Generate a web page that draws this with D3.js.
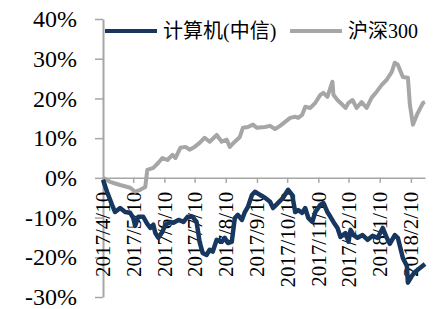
<!DOCTYPE html>
<html>
<head>
<meta charset="utf-8">
<script src="https://cdn.jsdelivr.net/npm/d3@7"></script>
<style>
  body { margin: 0; background: #fff; }
  text { font-family: "Liberation Serif", "Noto Sans CJK SC", serif; fill: #000; }
</style>
</head>
<body>
<div id="chart"></div>
<script>
// 沪深300
const hs300Dates = ["2017-04-10","2017-04-17","2017-04-27","2017-05-07","2017-05-12","2017-05-17","2017-05-22","2017-05-24","2017-05-30","2017-06-04","2017-06-08","2017-06-13","2017-06-18","2017-06-21","2017-06-26","2017-07-01","2017-07-05","2017-07-10","2017-07-15","2017-07-20","2017-07-25","2017-08-01","2017-08-06","2017-08-11","2017-08-14","2017-08-19","2017-08-24","2017-08-27","2017-09-01","2017-09-06","2017-09-10","2017-09-18","2017-09-23","2017-09-28","2017-10-03","2017-10-08","2017-10-13","2017-10-18","2017-10-21","2017-10-25","2017-10-28","2017-11-02","2017-11-07","2017-11-12","2017-11-15","2017-11-19","2017-11-22","2017-11-24","2017-11-25","2017-11-29","2017-12-04","2017-12-07","2017-12-10","2017-12-14","2017-12-18","2017-12-23","2017-12-28","2018-01-02","2018-01-07","2018-01-12","2018-01-17","2018-01-22","2018-01-25","2018-01-28","2018-02-02","2018-02-07","2018-02-09","2018-02-12","2018-02-16","2018-02-22","2018-02-24"];
const hs300Values = [0.0,-1.0,-1.8,-2.5,-3.5,-3.0,-2.3,2.0,2.5,3.8,5.0,4.5,5.8,5.0,7.6,7.8,7.1,7.8,8.8,10.1,9.1,10.8,9.1,9.6,7.8,9.1,10.3,12.6,12.8,13.4,12.6,12.8,13.1,12.3,13.1,14.1,15.1,15.4,15.1,15.9,17.9,17.6,18.9,20.9,21.4,20.4,22.7,24.2,20.9,19.6,18.4,17.6,18.9,19.6,17.6,19.1,17.6,20.2,21.7,23.4,24.7,26.7,29.0,28.5,25.4,25.2,18.4,13.4,15.9,18.9,19.1];

// 计算机(中信)
const computerDates = ["2017-04-10","2017-04-14","2017-04-19","2017-04-22","2017-04-27","2017-05-02","2017-05-07","2017-05-10","2017-05-12","2017-05-15","2017-05-20","2017-05-24","2017-05-27","2017-05-30","2017-06-01","2017-06-04","2017-06-08","2017-06-11","2017-06-16","2017-06-19","2017-06-24","2017-06-29","2017-07-03","2017-07-08","2017-07-12","2017-07-15","2017-07-18","2017-07-22","2017-07-25","2017-07-28","2017-08-01","2017-08-06","2017-08-09","2017-08-12","2017-08-16","2017-08-19","2017-08-22","2017-08-26","2017-08-29","2017-09-01","2017-09-05","2017-09-08","2017-09-13","2017-09-18","2017-09-23","2017-09-26","2017-10-01","2017-10-06","2017-10-11","2017-10-15","2017-10-18","2017-10-21","2017-10-25","2017-10-28","2017-10-31","2017-11-04","2017-11-07","2017-11-12","2017-11-15","2017-11-19","2017-11-22","2017-11-25","2017-11-29","2017-12-02","2017-12-07","2017-12-10","2017-12-12","2017-12-15","2017-12-19","2017-12-24","2017-12-29","2018-01-03","2018-01-08","2018-01-13","2018-01-17","2018-01-20","2018-01-25","2018-01-28","2018-02-02","2018-02-06","2018-02-07","2018-02-11","2018-02-14","2018-02-19","2018-02-24"];
const computerValues = [-0.5,-3.5,-6.8,-8.6,-7.6,-8.6,-8.8,-10.1,-12.1,-9.8,-9.8,-11.6,-12.6,-11.8,-13.9,-15.1,-13.6,-11.8,-11.1,-11.3,-10.6,-11.1,-9.8,-9.8,-11.1,-16.1,-18.9,-19.4,-18.1,-18.6,-15.6,-16.1,-15.1,-16.4,-16.1,-10.1,-9.3,-10.6,-8.6,-7.3,-4.3,-3.5,-4.3,-5.0,-6.0,-7.6,-6.3,-5.0,-3.0,-4.3,-8.6,-8.1,-8.8,-7.6,-10.1,-11.1,-8.6,-6.8,-6.3,-8.6,-9.8,-11.1,-12.6,-14.9,-13.9,-16.1,-13.1,-14.4,-15.1,-14.4,-15.6,-14.6,-15.1,-12.6,-15.1,-16.6,-14.4,-15.1,-20.2,-22.2,-26.4,-24.7,-23.7,-22.7,-21.7];

const xTickLabels = ["2017/4/10","2017/5/10","2017/6/10","2017/7/10","2017/8/10","2017/9/10","2017/10/10","2017/11/10","2017/12/10","2018/1/10","2018/2/10"];
const yTicks = [-30, -20, -10, 0, 10, 20, 30, 40];
const seriesNames = ["计算机(中信)", "沪深300"];

const width = 435, height = 309;
const plot = { left: 103, right: 425, top: 19, bottom: 297 };
const navy = "#17375e", grey = "#a6a6a6";

const parseDay = d3.timeParse("%Y-%m-%d");
const parseTick = d3.timeParse("%Y/%m/%d");

const svg = d3.select("#chart").append("svg")
    .attr("width", width)
    .attr("height", height);

const x = d3.scaleTime()
    .domain([parseDay("2017-04-10"), parseDay("2018-02-24")])
    .range([plot.left, plot.right]);

const y = d3.scaleLinear()
    .domain([-30, 40])
    .range([plot.bottom, plot.top]);

// y axis
const yAxis = svg.append("g")
    .attr("transform", `translate(${plot.left},0)`)
    .call(d3.axisLeft(y).tickValues(yTicks).tickSize(8).tickSizeOuter(0).tickPadding(18).tickFormat(d => d + "%"));
yAxis.select(".domain").attr("stroke", grey).attr("stroke-width", 2);
yAxis.selectAll(".tick line").attr("stroke", grey).attr("stroke-width", 1.5);
yAxis.selectAll(".tick text")
    .style("font-size", "24px")
    .style("font-family", "Liberation Serif, serif")
    .attr("fill", "#000");

// x axis on the zero line
const xTicks = xTickLabels.map(parseTick);
const xAxis = svg.append("g")
    .attr("transform", `translate(0,${y(0)})`)
    .call(d3.axisBottom(x).tickValues(xTicks).tickSize(5).tickSizeOuter(0).tickFormat(""));
xAxis.select(".domain").attr("stroke", grey).attr("stroke-width", 1.5);
xAxis.selectAll(".tick line").attr("stroke", grey).attr("stroke-width", 1.5);

svg.append("g")
    .selectAll("text")
    .data(xTickLabels)
    .enter()
    .append("text")
    .attr("transform", (d, i) => `translate(${x(xTicks[i])},${y(0) + 14}) rotate(-90)`)
    .attr("text-anchor", "end")
    .attr("dy", "0.35em")
    .style("font-size", "21px")
    .text(d => d);

// lines
const line = d3.line()
    .x(d => x(d.date))
    .y(d => y(d.value));

const hs300 = hs300Dates.map((d, i) => ({ date: parseDay(d), value: hs300Values[i] }));
const computer = computerDates.map((d, i) => ({ date: parseDay(d), value: computerValues[i] }));

svg.append("path")
    .datum(hs300)
    .attr("fill", "none")
    .attr("stroke", grey)
    .attr("stroke-width", 4)
    .attr("stroke-linejoin", "round")
    .attr("d", line);

svg.append("path")
    .datum(computer)
    .attr("fill", "none")
    .attr("stroke", navy)
    .attr("stroke-width", 4.5)
    .attr("stroke-linejoin", "round")
    .attr("d", line);

// legend
const legendItems = [
    { name: seriesNames[0], color: navy, x: 105 },
    { name: seriesNames[1], color: grey, x: 290 }
];
legendItems.forEach(item => {
    svg.append("line")
        .attr("x1", item.x)
        .attr("x2", item.x + 52)
        .attr("y1", 31)
        .attr("y2", 31)
        .attr("stroke", item.color)
        .attr("stroke-width", 4);
    svg.append("text")
        .attr("x", item.x + 58)
        .attr("y", 31)
        .attr("dy", "0.35em")
        .style("font-size", "20px")
        .text(item.name);
});
</script>
</body>
</html>
